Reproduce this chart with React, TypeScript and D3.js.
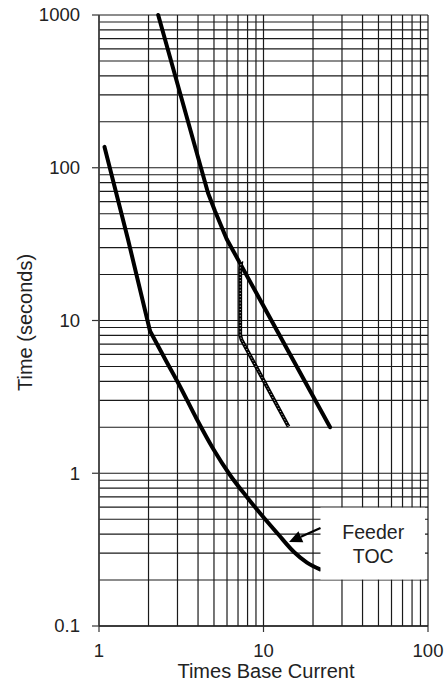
import React from "react";
import * as d3 from "d3";

const xTickValues = [1, 10, 100];
const xTickLabels = ["1", "10", "100"];
const yTickValues = [0.1, 1, 10, 100, 1000];
const yTickLabels = ["0.1", "1", "10", "100", "1000"];

// Feeder TOC curve: steep part (up to the knee near 2x) and the tail after it
const feederSteepX = [1.08, 1.5, 2.042];
const feederSteepY = [137, 34, 8.54];
const feederTailX = [2.042, 2.579, 3.108, 3.926, 4.953, 6.256, 7.83, 9.79, 12.25, 15.32, 18.38, 22.06];
const feederTailY = [8.54, 5.35, 3.7, 2.266, 1.441, 0.974, 0.71, 0.529, 0.4, 0.305, 0.26, 0.235];

// Upper curve
const upperX = [2.29, 4.6, 5.07, 5.97, 25.4];
const upperY = [1000, 68.4, 52.1, 34.2, 2.0];

// Dotted curve
const dottedX = [7.35, 7.22, 7.22, 7.35, 7.6, 9.98, 14.2];
const dottedY = [24.5, 22, 8.0, 7.5, 7.0, 4.08, 2.02];

const annotationLines = ["Feeder", "TOC"];

const W = 448;
const H = 683;
const FONT = "'Liberation Sans', Arial, Helvetica, sans-serif";

export default function App() {
  const x = d3.scaleLog().domain([1, 100]).range([99, 428]);
  const y = d3.scaleLog().domain([0.1, 1000]).range([626, 15]);

  const xGrid: number[] = [];
  [1, 10].forEach((d) => {
    for (let k = 1; k <= 9; k++) xGrid.push(k * d);
  });
  xGrid.push(100);
  const yGrid: number[] = [];
  [0.1, 1, 10, 100].forEach((d) => {
    for (let k = 1; k <= 9; k++) yGrid.push(k * d);
  });
  yGrid.push(1000);

  const smooth = d3
    .line<[number, number]>()
    .x((p) => x(p[0]))
    .y((p) => y(p[1]))
    .curve(d3.curveMonotoneX);
  const straight = d3
    .line<[number, number]>()
    .x((p) => x(p[0]))
    .y((p) => y(p[1]))
    .curve(d3.curveLinear);

  const feederA = smooth(feederSteepX.map((v, i) => [v, feederSteepY[i]]));
  const feederB = smooth(feederTailX.map((v, i) => [v, feederTailY[i]]));
  const upper = straight(upperX.map((v, i) => [v, upperY[i]]));
  const dotted = straight(dottedX.map((v, i) => [v, dottedY[i]]));

  const boxX0 = x(21.9) + 1;
  const boxX1 = 425;
  const boxY0 = y(0.6) + 0.5;
  const boxY1 = y(0.2) - 0.5;

  const tail = { x: boxX0, y: 528 };
  const tip = { x: 289, y: 542 };
  const ang = Math.atan2(tip.y - tail.y, tip.x - tail.x);
  const headLen = 13;
  const headW = 6;
  const bx = tip.x - headLen * Math.cos(ang);
  const by = tip.y - headLen * Math.sin(ang);
  const px = -Math.sin(ang);
  const py = Math.cos(ang);
  const head = `M${tip.x},${tip.y}L${bx + headW * px},${by + headW * py}L${bx - headW * px},${by - headW * py}Z`;

  const textCx = (boxX0 + boxX1) / 2 + 0.5;

  return (
    <svg
      width={W}
      height={H}
      style={{ position: "absolute", left: 0, top: 0, background: "#fff" }}
      fontFamily={FONT}
    >
      <rect x={0} y={0} width={W} height={H} fill="#fff" />
      {/* grid */}
      <g stroke="#1a1a1a" strokeWidth={1.2}>
        {xGrid.map((v, i) => (
          <line key={"gx" + i} x1={x(v)} x2={x(v)} y1={y(1000)} y2={y(0.1)} />
        ))}
        {yGrid.map((v, i) => (
          <line key={"gy" + i} x1={x(1)} x2={x(100)} y1={y(v)} y2={y(v)} />
        ))}
      </g>
      {/* axis ticks */}
      <g stroke="#333" strokeWidth={1.2}>
        {yTickValues.map((v, i) => (
          <line key={"ty" + i} x1={x(1) - 7} x2={x(1)} y1={y(v)} y2={y(v)} />
        ))}
        {xTickValues.map((v, i) => (
          <line key={"tx" + i} x1={x(v)} x2={x(v)} y1={y(0.1)} y2={y(0.1) + 6} />
        ))}
      </g>
      <line x1={x(1)} x2={x(1)} y1={y(1000)} y2={y(0.1)} stroke="#444" strokeWidth={1.6} />
      <line x1={x(1)} x2={x(100)} y1={y(0.1)} y2={y(0.1)} stroke="#222" strokeWidth={1.4} />
      {/* tick labels */}
      <g fill="#222" fontSize={18.5}>
        {yTickValues.map((v, i) => (
          <text key={"ly" + i} x={80} y={y(v)} dy="0.35em" textAnchor="end">
            {yTickLabels[i]}
          </text>
        ))}
        {xTickValues.map((v, i) => (
          <text key={"lx" + i} x={x(v)} y={657} textAnchor="middle">
            {xTickLabels[i]}
          </text>
        ))}
      </g>
      {/* axis titles */}
      <text x={266} y={678} textAnchor="middle" fontSize={20} fill="#222">
        Times Base Current
      </text>
      <text
        transform={`translate(32,${(y(1000) + y(0.1)) / 2 + 2}) rotate(-90)`}
        textAnchor="middle"
        fontSize={20}
        fill="#222"
      >
        Time (seconds)
      </text>
      {/* curves */}
      <path d={feederA || ""} fill="none" stroke="#000" strokeWidth={4} strokeLinejoin="round" strokeLinecap="round" />
      <path d={feederB || ""} fill="none" stroke="#000" strokeWidth={4} strokeLinejoin="round" strokeLinecap="round" />
      <path d={upper || ""} fill="none" stroke="#000" strokeWidth={4} strokeLinejoin="round" strokeLinecap="round" />
      <path d={dotted || ""} fill="none" stroke="#000" strokeWidth={3.8} strokeLinejoin="round" />
      <path d={dotted || ""} fill="none" stroke="#fff" strokeWidth={0.9} strokeDasharray="1 2.2" strokeLinejoin="round" />
      {/* annotation box */}
      <rect x={boxX0} y={boxY0} width={boxX1 - boxX0} height={boxY1 - boxY0} fill="#fff" />
      <line x1={tail.x} y1={tail.y} x2={bx} y2={by} stroke="#000" strokeWidth={2.2} />
      <path d={head} fill="#000" />
      <g fontSize={19.5} fill="#222" textAnchor="middle">
        <text x={textCx} y={539}>{annotationLines[0]}</text>
        <text x={textCx} y={563}>{annotationLines[1]}</text>
      </g>
    </svg>
  );
}
